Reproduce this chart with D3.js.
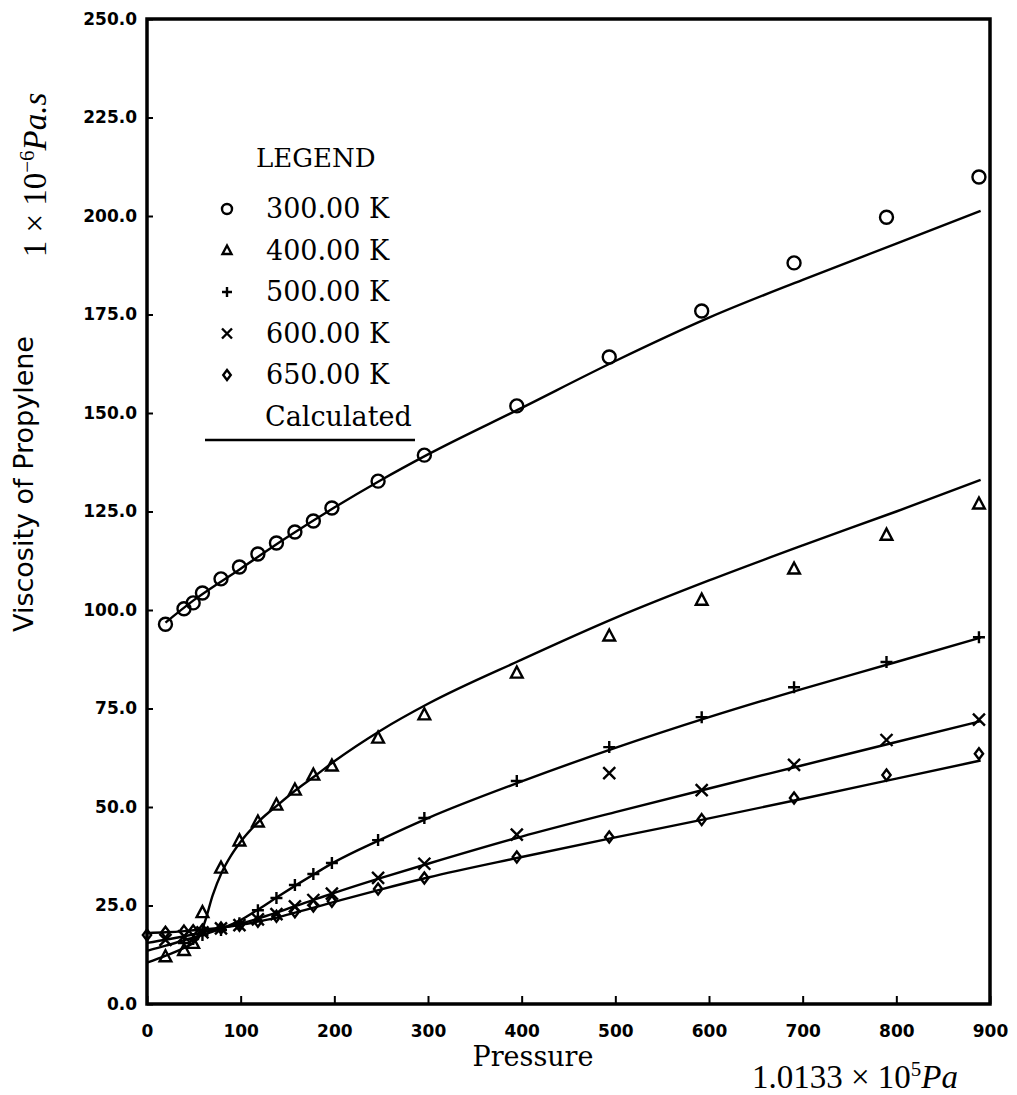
<!DOCTYPE html>
<html>
<head>
<meta charset="utf-8">
<script src="https://cdn.jsdelivr.net/npm/d3@7"></script>
<style>
body { margin:0; background:#fff; }
svg { display:block; }
.tick text { font-family:'DejaVu Sans'; font-weight:bold; font-size:17px; fill:#000; }
.tick line { stroke:#000; stroke-width:2; }
.legend text { font-family:'DejaVu Serif'; font-size:27px; fill:#000; }
</style>
</head>
<body>
<script>
// pressure ticks and viscosity ticks
var xTicks = [0, 100, 200, 300, 400, 500, 600, 700, 800, 900]
var yTicks = [0, 25, 50, 75, 100, 125, 150, 175, 200, 225, 250]

// measured points, [pressure, viscosity]
var data300 = [[19.7,96.4],[39.5,100.3],[49.3,101.8],[59.2,104.3],[79,107.9],[98.7,110.9],[118.4,114.2],[138.2,117],[157.9,119.8],[177.6,122.6],[197.4,125.9],[246.7,132.7],[296.1,139.3],[394.8,151.8],[493.5,164.2],[592.2,175.9],[690.8,188.1],[789.5,199.7],[888.2,209.9]]
var data400 = [[19.7,12],[39.5,13.6],[49.3,15.4],[59.2,23.2],[79,34.5],[98.7,41.4],[118.4,46.2],[138.2,50.5],[157.9,54.3],[177.6,58.1],[197.4,60.4],[246.7,67.5],[296.1,73.4],[394.8,84],[493.5,93.4],[592.2,102.5],[690.8,110.4],[789.5,119],[888.2,126.9]]
var data500 = [[39.5,15.5],[49.3,16.5],[59.2,17.5],[79,18.8],[98.7,20.5],[118.4,23.8],[138.2,26.9],[157.9,30.2],[177.6,33],[197.4,35.8],[246.7,41.6],[296.1,47.2],[394.8,56.6],[493.5,65.2],[592.2,72.8],[690.8,80.4],[789.5,86.8],[888.2,93.1]]
var data600 = [[19.7,16.3],[39.5,17.2],[59.2,18.2],[79,19.2],[98.7,20],[118.4,21.5],[138.2,22.8],[157.9,24.8],[177.6,26.4],[197.4,28],[246.7,32],[296.1,35.6],[394.8,43],[493.5,58.6],[592.2,54.3],[690.8,60.7],[789.5,67],[888.2,72.2]]
var data650 = [[0,17.5],[19.7,18.2],[39.5,18.5],[49.3,18.6],[59.2,18.8],[79,19.3],[98.7,20],[118.4,21],[138.2,22.3],[157.9,23.4],[177.6,24.9],[197.4,26.1],[246.7,29.2],[296.1,32],[394.8,37.3],[493.5,42.4],[592.2,46.8],[690.8,52.3],[789.5,58.1],[888.2,63.5]]

// calculated curves
var calc300 = [[19.7,96.8],[50,102.5],[100,110.5],[150,118.5],[200,126],[250,133],[300,139.5],[400,151.3],[500,163.2],[600,174.2],[700,183.8],[800,193],[890,201.3]]
var calc400 = [[0,10.5],[20,12.3],[40,14.3],[55,16.8],[62,21],[70,27.5],[80,33.5],[90,37.8],[100,41.2],[120,46.5],[140,50.6],[160,54.5],[180,58],[200,61.6],[250,69.5],[300,76.2],[400,87.4],[500,98],[600,107.5],[700,116.4],[800,125],[890,133]]
var calc500 = [[0,13.5],[20,14.8],[40,16.2],[60,17.6],[80,19.2],[100,21.3],[120,24.2],[140,27.3],[160,30.3],[180,33.2],[200,36],[250,41.8],[300,47.2],[400,56.5],[500,65],[600,72.8],[700,80],[800,86.8],[890,93]]
var calc600 = [[0,15.5],[20,16.3],[40,17.2],[60,18.2],[80,19.3],[100,20.4],[120,21.8],[140,23.3],[160,25],[180,26.6],[200,28.2],[250,32],[300,35.6],[400,42.5],[500,48.7],[600,54.7],[700,60.6],[800,66.5],[890,71.8]]
var calc650 = [[0,18],[20,18.2],[40,18.5],[60,18.9],[80,19.4],[100,20.1],[120,21],[140,22],[160,23.3],[180,24.6],[200,25.9],[250,29.1],[300,32.1],[400,37.3],[500,42.3],[600,47.1],[700,52.1],[800,57.2],[890,61.8]]

var legendLabels = ['300.00 K', '400.00 K', '500.00 K', '600.00 K', '650.00 K']
var symbols = ['circle', 'triangle', 'plus', 'cross', 'diamond']

var width = 1017
var height = 1095
var plot = { left:147, right:990, top:19, bottom:1004 }

var svg = d3.select('body').append('svg')
    .attr('width', width)
    .attr('height', height)

// scales
var x = d3.scaleLinear().domain([0, 900]).range([plot.left, plot.right])
var y = d3.scaleLinear().domain([0, 250]).range([plot.bottom, plot.top])

// axes, ticks pointing inward
svg.append('g')
    .attr('transform', 'translate(0,' + plot.bottom + ')')
    .call(d3.axisBottom(x).tickValues(xTicks).tickSize(-8).tickPadding(21).tickFormat(d3.format('d')))
    .call(function(g){ g.select('.domain').remove() })

svg.append('g')
    .attr('transform', 'translate(' + plot.left + ',0)')
    .call(d3.axisLeft(y).tickValues(yTicks).tickSize(-6).tickPadding(10).tickFormat(d3.format('.1f')))
    .call(function(g){ g.select('.domain').remove() })

// frame
svg.append('rect')
    .attr('x', plot.left)
    .attr('y', plot.top)
    .attr('width', plot.right - plot.left)
    .attr('height', plot.bottom - plot.top)
    .attr('fill', 'none')
    .attr('stroke', '#000')
    .attr('stroke-width', 3.5)

var line = d3.line()
    .x(function(d){ return x(d[0]) })
    .y(function(d){ return y(d[1]) })
    .curve(d3.curveMonotoneX)

var calcs = [calc300, calc400, calc500, calc600, calc650]
svg.append('g').selectAll('path')
    .data(calcs)
    .enter().append('path')
    .attr('d', line)
    .attr('fill', 'none')
    .attr('stroke', '#000')
    .attr('stroke-width', 2.4)

// marker shapes drawn as paths around 0,0
function symbolPath(type, s){
    if(type === 'circle'){
        return d3.arc()({ innerRadius:0, outerRadius:s, startAngle:0, endAngle:2*Math.PI })
    }
    if(type === 'triangle'){
        return 'M0,' + (-s) + 'L' + (s*0.9) + ',' + (s*0.7) + 'L' + (-s*0.9) + ',' + (s*0.7) + 'Z'
    }
    if(type === 'plus'){
        return 'M' + (-s) + ',0H' + s + 'M0,' + (-s) + 'V' + s
    }
    if(type === 'cross'){
        return 'M' + (-s) + ',' + (-s) + 'L' + s + ',' + s + 'M' + s + ',' + (-s) + 'L' + (-s) + ',' + s
    }
    return 'M0,' + (-s) + 'L' + (s*0.75) + ',0L0,' + s + 'L' + (-s*0.75) + ',0Z'
}

var sets = [data300, data400, data500, data600, data650]
var sizes = [6.5, 6.5, 6, 6, 5.5]
sets.forEach(function(set, i){
    svg.append('g').selectAll('path')
        .data(set)
        .enter().append('path')
        .attr('transform', function(d){ return 'translate(' + x(d[0]) + ',' + y(d[1]) + ')' })
        .attr('d', symbolPath(symbols[i], sizes[i]))
        .attr('fill', 'none')
        .attr('stroke', '#000')
        .attr('stroke-width', 2.4)
})

// legend
var legend = svg.append('g').attr('class', 'legend')
legend.append('text').attr('x', 256).attr('y', 167).style('font-size', '26px').text('LEGEND')
legendLabels.forEach(function(label, i){
    var ly = 218 + i*41.5
    legend.append('path')
        .attr('transform', 'translate(227,' + (ly - 9) + ')')
        .attr('d', symbolPath(symbols[i], 5))
        .attr('fill', 'none')
        .attr('stroke', '#000')
        .attr('stroke-width', 2.4)
    legend.append('text').attr('x', 266).attr('y', ly).text(label)
})
legend.append('text').attr('x', 265).attr('y', 218 + 5*41.5).text('Calculated')
legend.append('line')
    .attr('x1', 205).attr('x2', 415)
    .attr('y1', 440).attr('y2', 440)
    .attr('stroke', '#000')
    .attr('stroke-width', 2.4)

// axis titles
svg.append('text')
    .attr('transform', 'translate(33,484) rotate(-90)')
    .attr('text-anchor', 'middle')
    .style('font-family', 'DejaVu Sans')
    .style('font-size', '27px')
    .text('Viscosity of Propylene')

var unitY = svg.append('text')
    .attr('transform', 'translate(46,175) rotate(-90)')
    .attr('text-anchor', 'middle')
    .style('font-family', 'Liberation Serif')
    .style('font-size', '33px')
unitY.append('tspan').text('1 × 10')
unitY.append('tspan').attr('dy', -12).style('font-size', '21px').text('−6')
unitY.append('tspan').attr('dy', 12).style('font-style', 'italic').text('Pa.s')

svg.append('text')
    .attr('x', 533)
    .attr('y', 1066)
    .attr('text-anchor', 'middle')
    .style('font-family', 'DejaVu Serif')
    .style('font-size', '27px')
    .text('Pressure')

var unitX = svg.append('text')
    .attr('x', 855)
    .attr('y', 1088)
    .attr('text-anchor', 'middle')
    .style('font-family', 'Liberation Serif')
    .style('font-size', '33px')
unitX.append('tspan').text('1.0133 × 10')
unitX.append('tspan').attr('dy', -12).style('font-size', '21px').text('5')
unitX.append('tspan').attr('dy', 12).style('font-style', 'italic').text('Pa')
</script>
</body>
</html>
